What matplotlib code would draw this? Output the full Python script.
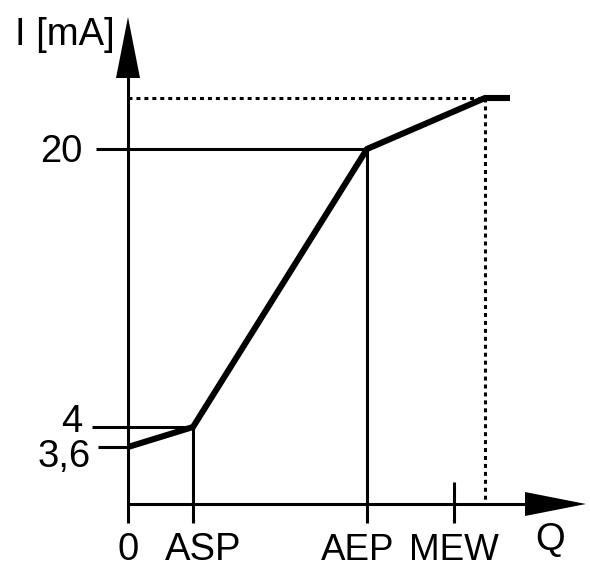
import matplotlib
matplotlib.use("Agg")
import matplotlib.pyplot as plt
from matplotlib.patches import Polygon

plt.rcParams['font.family'] = ['Liberation Sans', 'DejaVu Sans']

# Schematic positions (arbitrary units)
q_names = ["0", "ASP", "AEP", "MEW"]
q_pos = [0, 65, 239, 326]
i_labels = ["3,6", "4", "20"]
i_pos = [57, 77, 355]
# characteristic curve (Q position, I position)
curve_q = [0, 65, 239, 357, 382]
curve_i = [57, 77, 355, 406, 406]
sat_q = 357
sat_i = 406
x_end = 458
y_end = 487

W, H = 590, 571
ox, oy = 128, 504  # origin in pixels
fig = plt.figure(figsize=(W / 100, H / 100), dpi=100)
ax = fig.add_axes([0, 0, 1, 1])
ax.set_xlim(-ox, W - ox)
ax.set_ylim(oy - H, oy)
ax.axis('off')

thin = 2.2
thick = 4.4
k = 'black'

# axes lines
ax.plot([0, x_end - 60], [0, 0], color=k, lw=thin, solid_capstyle='butt')
ax.plot([0, 0], [-19, y_end - 60], color=k, lw=thin, solid_capstyle='butt')
# arrow heads
ax.add_patch(Polygon([[x_end - 61, -12], [x_end - 61, 12], [x_end, 0]], closed=True, color=k, lw=0))
ax.add_patch(Polygon([[-12, y_end - 61], [12, y_end - 61], [0, y_end]], closed=True, color=k, lw=0))

# reference lines to Y labels
ax.plot([-30, 0], [i_pos[0], i_pos[0]], color=k, lw=thin, solid_capstyle='butt')
ax.plot([-36, q_pos[1]], [i_pos[1], i_pos[1]], color=k, lw=thin, solid_capstyle='butt')
ax.plot([-32, q_pos[2]], [i_pos[2], i_pos[2]], color=k, lw=thin, solid_capstyle='butt')

# vertical lines / ticks at Q positions
ax.plot([q_pos[1], q_pos[1]], [i_pos[1], -19], color=k, lw=thin, solid_capstyle='butt')
ax.plot([q_pos[2], q_pos[2]], [i_pos[2], -19], color=k, lw=thin, solid_capstyle='butt')
ax.plot([q_pos[3], q_pos[3]], [22, -19], color=k, lw=thin, solid_capstyle='butt')

# dotted saturation guides
ax.plot([0, sat_q], [sat_i, sat_i], color=k, lw=thin, linestyle=(0, (1.3, 1.3)), dash_capstyle='butt')
ax.plot([sat_q, sat_q], [sat_i, 4], color=k, lw=thin, linestyle=(0, (1.3, 1.3)), dash_capstyle='butt')

# characteristic curve
ax.plot(curve_q, curve_i, color=k, lw=thick, solid_joinstyle='miter', solid_capstyle='butt')

fs = 27.5
# Y labels
ax.text(-37, 37, i_labels[0], ha='right', va='baseline', fontsize=fs)
ax.text(-46, 72, i_labels[1], ha='right', va='baseline', fontsize=fs)
ax.text(-46, 342, i_labels[2], ha='right', va='baseline', fontsize=fs)
# X labels
q_text_x = [0, 75, 230, 326]
q_fs = [fs, fs, 26.5, 26.5]
for name, tx, s in zip(q_names, q_text_x, q_fs):
    ax.text(tx, -56, name, ha='center', va='baseline', fontsize=s)
ax.text(422, -46, "Q", ha='center', va='baseline', fontsize=fs)
ax.text(-113, 459, "I [mA]", ha='left', va='baseline', fontsize=fs)

fig.savefig("out.png", dpi=100)
